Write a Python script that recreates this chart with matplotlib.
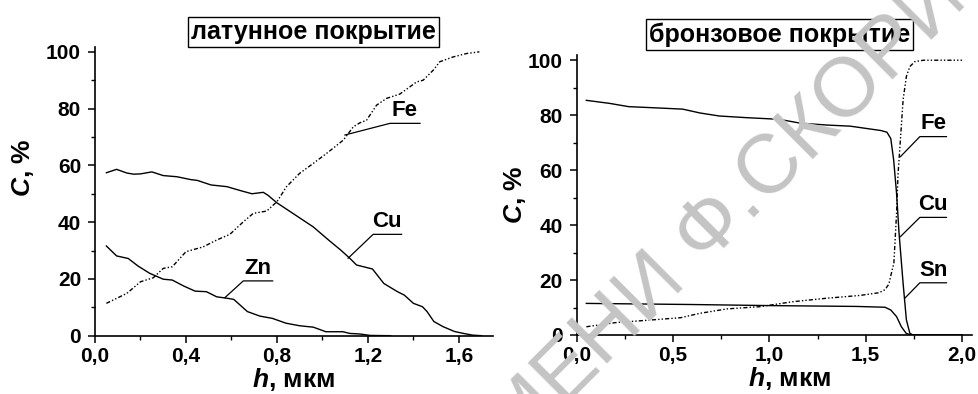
import matplotlib
matplotlib.use("Agg")
from matplotlib import pyplot as plt
from matplotlib.ticker import MultipleLocator

plt.rcParams["font.family"] = ["Liberation Sans", "DejaVu Sans"]
plt.rcParams["font.weight"] = "bold"
plt.rcParams["mathtext.fontset"] = "custom"
plt.rcParams["mathtext.bfit"] = "Liberation Sans:italic:bold"
plt.rcParams["mathtext.rm"] = "Liberation Sans:bold"

# ---- brass coating (left) ----
brass_cu_h = [0.05, 0.095, 0.14, 0.17, 0.2, 0.25, 0.3, 0.36, 0.42, 0.45, 0.51, 0.58, 0.64,
              0.69, 0.74, 0.76, 0.80, 0.9, 0.96, 1.03, 1.08, 1.12, 1.15, 1.19, 1.22, 1.27,
              1.33, 1.36, 1.40, 1.44, 1.46, 1.49, 1.53, 1.58, 1.62, 1.66, 1.70]
brass_cu_c = [57.4, 58.6, 57.3, 56.9, 57.0, 57.7, 56.4, 56.0, 55.0, 54.7, 53.1, 52.5, 51.1,
              50.0, 50.5, 49.5, 46.8, 41.5, 38.3, 33.5, 30.2, 27.3, 24.9, 24.1, 23.5, 18.4,
              15.5, 14.3, 11.4, 10.2, 8.5, 5.0, 3.2, 1.5, 0.8, 0.2, 0.0]
brass_zn_h = [0.05, 0.095, 0.146, 0.19, 0.24, 0.30, 0.34, 0.39, 0.44, 0.49, 0.535, 0.58, 0.61,
              0.67, 0.725, 0.78, 0.84, 0.90, 0.96, 1.015, 1.09, 1.12, 1.165, 1.21, 1.30]
brass_zn_c = [31.6, 28.1, 27.2, 24.5, 22.0, 19.9, 19.6, 17.5, 15.7, 15.5, 13.7, 13.2, 12.8,
              8.5, 6.9, 6.1, 4.4, 3.5, 3.0, 1.4, 1.4, 0.8, 0.6, 0.1, 0.0]
brass_fe_h = [0.05, 0.14, 0.2, 0.256, 0.30, 0.34, 0.40, 0.476, 0.535, 0.593, 0.652, 0.696,
              0.755, 0.80, 0.842, 0.90, 0.96, 1.018, 1.092, 1.136, 1.165, 1.194, 1.238, 1.282,
              1.34, 1.385, 1.414, 1.443, 1.487, 1.516, 1.575, 1.634, 1.69]
brass_fe_c = [11.4, 14.9, 19.0, 20.4, 23.7, 24.3, 29.6, 31.3, 33.7, 35.7, 40.1, 43.1,
              43.9, 47.2, 52.5, 57.2, 60.7, 64.2, 68.9, 73.6, 75.0, 75.9, 81.2, 83.6,
              85.1, 87.7, 89.4, 90.0, 93.5, 96.5, 98.2, 99.4, 100.0]

# ---- bronze coating (right) ----
bronze_cu_h = [0.05, 0.17, 0.27, 0.43, 0.55, 0.64, 0.74, 0.88, 1.05, 1.16, 1.30, 1.42, 1.50,
               1.58, 1.61, 1.63, 1.645, 1.66, 1.673, 1.694, 1.711, 1.729, 1.746, 2.0]
bronze_cu_c = [85.4, 84.3, 83.1, 82.6, 82.2, 80.8, 79.7, 79.1, 78.5, 77.1, 76.4, 76.0, 75.2,
               74.4, 73.8, 71.5, 63.7, 51.6, 37.0, 18.8, 5.5, 0.6, 0.0, 0.0]
bronze_fe_h = [0.05, 0.2, 0.26, 0.43, 0.54, 0.64, 0.78, 0.95, 1.12, 1.30, 1.47, 1.57, 1.60,
               1.62, 1.635, 1.646, 1.66, 1.668, 1.68, 1.694, 1.711, 1.729, 1.755, 1.80, 2.0]
bronze_fe_c = [3.0, 4.5, 4.8, 5.7, 6.3, 7.9, 9.5, 10.3, 12.1, 13.4, 14.4, 15.4, 16.5,
               18.5, 23.0, 26.1, 44.3, 58.9, 71.0, 85.6, 94.1, 97.7, 99.5, 100.0, 100.0]
bronze_sn_h = [0.05, 0.59, 1.0, 1.45, 1.60, 1.63, 1.66, 1.685, 1.71, 1.735, 2.0]
bronze_sn_c = [11.5, 11.1, 10.7, 10.4, 10.1, 9.1, 6.7, 3.0, 0.6, 0.0, 0.0]

left_xticks = [0.0, 0.4, 0.8, 1.2, 1.6]
left_xlabels = ["0,0", "0,4", "0,8", "1,2", "1,6"]
right_xticks = [0.0, 0.5, 1.0, 1.5, 2.0]
right_xlabels = ["0,0", "0,5", "1,0", "1,5", "2,0"]
yticks = [0, 20, 40, 60, 80, 100]

# label, underline x0, x1, underline y, leader tip x, tip y
left_notes = [("Fe", 1.297, 1.429, 74.8, 1.099, 70.7),
              ("Cu", 1.223, 1.348, 35.7, 1.113, 27.3),
              ("Zn", 0.652, 0.781, 19.3, 0.571, 13.4)]
right_notes = [("Fe", 1.781, 1.919, 72.2, 1.68, 64.9),
               ("Cu", 1.781, 1.919, 42.8, 1.68, 35.8),
               ("Sn", 1.781, 1.919, 19.0, 1.703, 13.4)]

DASHDOT = (0, (3, 1.5, 1, 1.5, 1, 1.5))

fig = plt.figure(figsize=(9.79, 3.94), dpi=100)
ax1 = fig.add_axes([95 / 979, 1 - 335.7 / 394, 398 / 979, 289 / 394])
ax2 = fig.add_axes([576.7 / 979, 1 - 335 / 394, 395 / 979, 280 / 394])


def style(ax, xmax, xticks, xlabels, minor_x, ytop):
    ax.set_xlim(0, xmax)
    ax.set_ylim(0, ytop)
    for s in ["top", "right"]:
        ax.spines[s].set_visible(False)
    for s in ["left", "bottom"]:
        ax.spines[s].set_linewidth(1.2)
    ax.set_xticks(xticks)
    ax.set_xticklabels(xlabels)
    ax.set_yticks(yticks)
    ax.xaxis.set_minor_locator(MultipleLocator(minor_x))
    ax.yaxis.set_minor_locator(MultipleLocator(10))
    ax.tick_params(which="major", direction="out", length=5, width=1.1, labelsize=15, pad=3)
    ax.tick_params(which="minor", direction="out", length=3, width=1.0)
    ax.tick_params(axis="y", pad=5)


def notes(ax, items):
    for lab, x0, x1, yu, xt, yt in items:
        ax.plot([xt, x0, x1], [yt, yu, yu], color="black", lw=0.9, clip_on=False)
        ax.text((x0 + x1) / 2, yu + 0.8, lab, ha="center", va="bottom",
                fontsize=16, fontweight="bold")


style(ax1, 1.75, left_xticks, left_xlabels, 0.2, 101.8)
ax1.plot(brass_cu_h, brass_cu_c, color="black", lw=1.0)
ax1.plot(brass_zn_h, brass_zn_c, color="black", lw=1.0)
ax1.plot(brass_fe_h, brass_fe_c, color="black", lw=1.0, linestyle=DASHDOT)
notes(ax1, left_notes)
ax1.text(-0.18, 0.58, "$\\mathbfit{C}$, %", transform=ax1.transAxes, rotation=90,
         ha="center", va="center", fontsize=19)
ax1.text(0.50, -0.15, "$\\mathbfit{h}$, мкм", transform=ax1.transAxes,
         ha="center", va="center", fontsize=19)

style(ax2, 2.05, right_xticks, right_xlabels, 0.25, 101.9)
ax2.plot(bronze_cu_h, bronze_cu_c, color="black", lw=1.0)
ax2.plot(bronze_sn_h, bronze_sn_c, color="black", lw=1.0)
ax2.plot(bronze_fe_h, bronze_fe_c, color="black", lw=1.0, linestyle=DASHDOT)
notes(ax2, right_notes)
ax2.text(-0.156, 0.5, "$\\mathbfit{C}$, %", transform=ax2.transAxes, rotation=90,
         ha="center", va="center", fontsize=19)
ax2.text(0.54, -0.155, "$\\mathbfit{h}$, мкм", transform=ax2.transAxes,
         ha="center", va="center", fontsize=19)

box = dict(boxstyle="square,pad=0.12", facecolor="white", edgecolor="black", linewidth=1.0)
fig.text(313.5 / 979, 1 - 31.5 / 394, "латунное покрытие", ha="center", va="center",
         fontsize=18, fontweight="bold", bbox=box)
fig.text(779.2 / 979, 1 - 34.5 / 394, "бронзовое покрытие", ha="center", va="center",
         fontsize=18, fontweight="bold", bbox=box)

# watermark of the source, runs off the figure edges as in the scan
fig.text(768 / 979, 1 - 203 / 394, "ИМЕНИ Ф.СКОРИНЫ", ha="center", va="baseline",
         rotation=45, rotation_mode="anchor", fontsize=60, fontweight="normal",
         color="#c4c4c4", zorder=10)

fig.savefig("out.png", dpi=100)
